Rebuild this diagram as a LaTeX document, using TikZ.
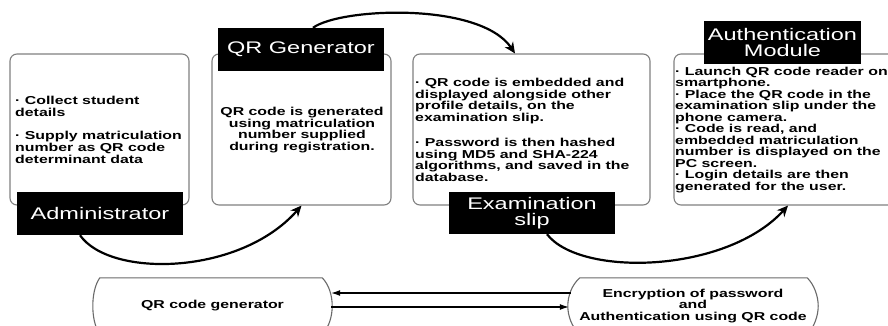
\documentclass[tikz,border=0pt]{standalone}
\usepackage{fontspec}
\usetikzlibrary{arrows.meta,calc}

% widened sans faces for the captions and the panel texts
\newfontfamily\tagfam{Liberation Sans}[FakeStretch=1.40]
\newfontfamily\bodyfam{Liberation Sans}[FakeStretch=1.38]
\newcommand\tagfont{\tagfam\fontsize{16.8}{15.5}\selectfont}
\newcommand\bodyfont{\bodyfam\bfseries\fontsize{11.5}{11.7}\selectfont}
\newcommand\tightbody{\bodyfam\bfseries\fontsize{11.5}{11.55}\selectfont}

\definecolor{panelgray}{HTML}{808080}
\definecolor{shapegray}{HTML}{6A6A6A}

\tikzset{
  panel/.style={draw=panelgray, line width=1.1pt, rounded corners=7pt,
    inner sep=0pt, minimum height=151pt},
  tag/.style={fill=black, text=white, font=\tagfont, align=center,
    inner sep=0pt, minimum height=43pt},
  body/.style={font=\bodyfont, inner sep=0pt, align=left, anchor=north west},
  flat/.style={font=\bodyfont, align=center, inner sep=0pt, minimum height=56pt},
  outline/.style={draw=shapegray, line width=1.1pt},
  flow/.style={draw=black, line width=2.2pt, -{Stealth[length=11pt,width=10pt]}},
  thinarr/.style={draw=black, line width=1.1pt, -{Latex[length=9pt,width=6pt]}}
}

\begin{document}
\begin{tikzpicture}[x=1pt,y=-1pt]
\useasboundingbox (0,0) rectangle (888,326);
\fill[white] (0,0) rectangle (888,326);
\clip (0,0) rectangle (888,326);

% the four stage panels
\node[panel, minimum width=179pt] (p1) at (99.5,129.5) {};
\node[panel, minimum width=179pt] (p2) at (301.5,129.5) {};
\node[panel, minimum width=237pt] (p3) at (531.5,129.5) {};
\node[panel, minimum width=228pt] (p4) at (788,129.5) {};

% panel texts
\node[body] (t1) at (15,96) {· Collect student\\details\\[12pt]· Supply matriculation\\number as QR code\\determinant data};
\node[body, align=center, anchor=north] (t2) at (302,107) {QR code is generated\\using matriculation\\number supplied\\during registration.};
\node[body] (t3) at (415,78) {· QR code is embedded and\\displayed alongside other\\profile details, on the\\examination slip.\\[13pt]· Password is then hashed\\using MD5 and SHA-224\\algorithms, and saved in the\\database.};
\node[body, font=\tightbody] (t4) at (675,66.5) {· Launch QR code reader on\\smartphone.\\· Place the QR code in the\\examination slip under the\\phone camera.\\· Code is read, and\\embedded matriculation\\number is displayed on the\\PC screen.\\· Login details are then\\generated for the user.};

% black captions
\node[tag, minimum width=166pt] (adm) at (100,213.5) {Administrator};
\node[tag, minimum width=166pt] (gen) at (301,49.5) {QR Generator};
\node[tag, minimum width=166pt, minimum height=42pt] (slip) at (532,213) {Examination\\slip};
\node[tag, minimum width=157pt, minimum height=43pt] (auth) at (782.5,42.5) {Authentication\\Module};

% curved flow arrows between the stages
\draw[flow] ([xshift=-20pt]adm.south) .. controls +(30,43) and +(-61.5,70) .. (p2.south);
\draw[flow] ([xshift=12pt]gen.north) .. controls +(27,-20) and +(-35,-52) .. ([xshift=-16.5pt]p3.north);
\draw[flow] ([xshift=15pt]slip.south) .. controls +(33,43) and +(-62,68) .. (p4.south);

% the two modules at the bottom
\node[flat, minimum width=239pt] (qrg) at (212.5,306) {QR code generator};
\node[flat, minimum width=250pt] (enc) at (693,306) {Encryption of password\\and\\Authentication using QR code};

\draw[outline] ([xshift=7pt]qrg.north west) -- ([xshift=-10pt]qrg.north east)
  .. controls +(7,7) and +(0,-10) .. (qrg.east)
  .. controls +(0,10) and +(7,-7) .. ([xshift=-10pt]qrg.south east)
  -- ([xshift=7pt]qrg.south west)
  .. controls +(-5,-7) and +(0,10) .. (qrg.west)
  .. controls +(0,-10) and +(-5,7) .. ([xshift=7pt]qrg.north west) -- cycle;

\draw[outline] ([xshift=12pt]enc.north west) -- ([xshift=-11pt]enc.north east)
  .. controls +(7,7) and +(0,-10) .. (enc.east)
  .. controls +(0,10) and +(7,-7) .. ([xshift=-11pt]enc.south east)
  -- ([xshift=12pt]enc.south west)
  .. controls +(-8,-7) and +(0,10) .. (enc.west)
  .. controls +(0,-10) and +(-8,7) .. ([xshift=12pt]enc.north west) -- cycle;

% links between the modules
\draw[thinarr] ($(enc.west)+(3,-13)$) -- ($(qrg.east)+(-1,-13)$);
\draw[thinarr] ($(qrg.east)+(-1,1)$) -- ($(enc.west)+(1,1)$);
\end{tikzpicture}
\end{document}
